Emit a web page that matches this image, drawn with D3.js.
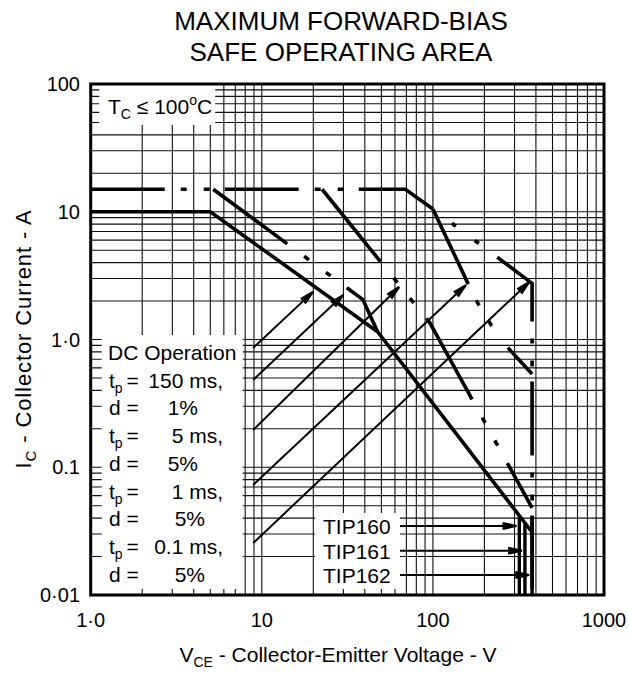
<!DOCTYPE html>
<html><head><meta charset="utf-8">
<script src="https://cdn.jsdelivr.net/npm/d3@7"></script>
<style>
body{margin:0;background:#fff;}
text{font-family:"Liberation Sans",Arial,Helvetica,sans-serif;fill:#000;}
</style>
</head><body>
<svg id="c" width="629" height="677"></svg>
<script>
// ---------- data ----------
const xTicks = [1, 10, 100, 1000];
const xTickLabels = ["1·0", "10", "100", "1000"];
const yTicks = [0.01, 0.1, 1, 10, 100];
const yTickLabels = ["0·01", "0.1", "1·0", "10", "100"];

const dcCurve    = [[1,10],[5,10],[47.5,1.15],[380,0.031]];
const curve150ms = [[1,15],[5.2,15],[39,2.05],[47.5,1.15]];
const curve5ms   = [[1,15],[22.5,15],[96,1.35],[380,0.048]];
const curve1ms   = [[1,15],[69,15],[100,10.5],[165,2.53],[184,1.9],[219,1.3],[272,0.874],[380,0.537]];
const curve01ms  = [[1,15],[69,15],[100,10.5],[380,2.75],[380,0.01]];

const devices = ["TIP160","TIP161","TIP162"];
const vceo = [320, 345, 380];
const vceoTopI = [0.042, 0.036, 0.041];
const deviceArrowI = [0.0347, 0.0222, 0.01435];

const legendArrowStart = [[8.9,0.858],[8.9,0.482],[8.9,0.196],[8.9,0.0726],[8.9,0.0255]];
const legendArrowEnd   = [[19.9,2.36],[29.9,2.23],[63.5,2.58],[156,2.67],[366,2.82]];

// ---------- drawing ----------
const svg = d3.select("#c");
const x = d3.scaleLog().domain([1,1000]).range([90.7,604]);
const y = d3.scaleLog().domain([0.01,100]).range([595,84]);

// grid
const g = svg.append("g");
const xGrid = [], yGrid = [];
for (const d of [1,10,100]) for (let k=1;k<=9;k++) xGrid.push(k*d);
xGrid.push(1000);
for (const d of [0.01,0.1,1,10]) for (let k=1;k<=9;k++) yGrid.push(k*d);
yGrid.push(100);
g.selectAll(".vg").data(xGrid).enter().append("line")
  .attr("x1",d=>x(d)).attr("x2",d=>x(d)).attr("y1",y(100)).attr("y2",y(0.01))
  .attr("stroke","#111").attr("stroke-width",1.1);
g.selectAll(".hg").data(yGrid).enter().append("line")
  .attr("y1",d=>y(d)).attr("y2",d=>y(d)).attr("x1",x(1)).attr("x2",x(1000))
  .attr("stroke","#111").attr("stroke-width",1.1);

// white label boxes
const boxes = [
  [x(1)+8.5, y(100), 116, 41],          // Tc box
  [x(1)+11, 335, 141, 254],             // legend box
  [315, 513, 85, 76]                    // device label box
];
svg.selectAll(".box").data(boxes).enter().append("rect")
  .attr("x",d=>d[0]).attr("y",d=>d[1]).attr("width",d=>d[2]).attr("height",d=>d[3])
  .attr("fill","#fff");

// frame
svg.append("rect").attr("x",x(1)).attr("y",y(100)).attr("width",x(1000)-x(1)).attr("height",y(0.01)-y(100))
  .attr("fill","none").attr("stroke","#000").attr("stroke-width",3);

const line = d3.line().x(d=>x(d[0])).y(d=>y(d[1]));

// curves: each drawn piece = [points, first index, last index, dash pattern]
const pieces = [
  [dcCurve, 0, 3, null],
  [curve01ms, 0, 2, "74,16,6,17,6,15,74,16,6,17,6,15,90,200"],
  [curve01ms, 2, 4, "0,23.7,5,23.7,5,23,81.6,17,5,17,6,15,74,17,5,17,6,15,74,17,5,17,6,15,74,1000"],
  [curve150ms, 1, 3, "92,21,6,21,6,20"],
  [curve5ms, 1, 3, "93,21,6,20,6,20"],
  [curve1ms, 2, 7, "83,18,6,18,6,27,200,100"]
];
svg.selectAll(".curve").data(pieces).enter().append("path")
  .attr("d",d=>line(d[0].slice(d[1], d[2]+1)))
  .attr("fill","none").attr("stroke","#000").attr("stroke-width",3.6)
  .attr("stroke-linejoin","miter")
  .attr("stroke-dasharray",d=>d[3]);

// VCEO verticals
svg.selectAll(".vceo").data(vceo).enter().append("line")
  .attr("x1",d=>x(d)).attr("x2",d=>x(d))
  .attr("y1",(d,i)=>y(vceoTopI[i])).attr("y2",y(0.01))
  .attr("stroke","#000").attr("stroke-width",3.4);

// arrows
function arrow(x1,y1,x2,y2){
  const a = Math.atan2(y2-y1,x2-x1);
  svg.append("line").attr("x1",x1).attr("y1",y1).attr("x2",x2).attr("y2",y2)
    .attr("stroke","#000").attr("stroke-width",2);
  const L=14, th=0.22;
  for (const back of [0,4]) {
    const tx = x2 - back*Math.cos(a), ty = y2 - back*Math.sin(a);
    const l = L - back;
    const p = [
      [tx - l*Math.cos(a-th), ty - l*Math.sin(a-th)],
      [tx, ty],
      [tx - l*Math.cos(a+th), ty - l*Math.sin(a+th)]
    ];
    svg.append("path").attr("d","M"+p.map(q=>q.join(",")).join("L"))
      .attr("fill","none").attr("stroke","#000").attr("stroke-width",2);
  }
}
legendArrowStart.forEach((s,i)=>{
  const e = legendArrowEnd[i];
  arrow(x(s[0]),y(s[1]),x(e[0]),y(e[1]));
});
deviceArrowI.forEach((iv,i)=>{
  arrow(400, y(iv), x(vceo[i])-3, y(iv));
});

// tick labels
svg.selectAll(".xl").data(xTicks).enter().append("text")
  .attr("x",d=>x(d)).attr("y",627).attr("text-anchor","middle")
  .attr("font-size",20).text((d,i)=>xTickLabels[i]);
svg.selectAll(".yl").data(yTicks).enter().append("text")
  .attr("x",80).attr("y",d=>y(d)+7).attr("text-anchor","end")
  .attr("font-size",20).text((d,i)=>yTickLabels[i]);

// titles
const title = svg.append("text").attr("text-anchor","middle").attr("font-size",26);
title.append("tspan").attr("x",341).attr("y",30).text("MAXIMUM FORWARD-BIAS");
title.append("tspan").attr("x",341).attr("y",61).text("SAFE OPERATING AREA");

const xt = svg.append("text").attr("x",338).attr("y",662).attr("text-anchor","middle").attr("font-size",21);
xt.append("tspan").text("V");
xt.append("tspan").attr("font-size",14).attr("dy",5).text("CE");
xt.append("tspan").attr("dy",-5).text(" - Collector-Emitter Voltage - V");

const yt = svg.append("text").attr("transform","translate(31,339) rotate(-90)")
  .attr("text-anchor","middle").attr("font-size",22).attr("letter-spacing",0.9);
yt.append("tspan").text("I");
yt.append("tspan").attr("font-size",15).attr("dy",5).text("C");
yt.append("tspan").attr("dy",-5).text(" - Collector Current - A");

// Tc label
const tc = svg.append("text").attr("x",108).attr("y",114).attr("font-size",21);
tc.append("tspan").text("T");
tc.append("tspan").attr("font-size",14).attr("dy",5).text("C");
tc.append("tspan").attr("dy",-5).text(" ≤ 100");
tc.append("tspan").attr("font-size",14).attr("dy",-9).text("o");
tc.append("tspan").attr("dy",9).text("C");

// legend text
const rows = [
  {type:"head", text:"DC Operation"},
  {type:"t", val:"150 ms,"},
  {type:"d", val:"1%", end:198},
  {type:"t", val:"5 ms,"},
  {type:"d", val:"5%", end:198},
  {type:"t", val:"1 ms,"},
  {type:"d", val:"5%", end:205},
  {type:"t", val:"0.1 ms,"},
  {type:"d", val:"5%", end:205}
];
rows.forEach((r,i)=>{
  const by = 360 + i*27.7;
  if (r.type==="head") {
    svg.append("text").attr("x",108).attr("y",by).attr("font-size",21).text(r.text);
    return;
  }
  const t = svg.append("text").attr("x",109).attr("y",by).attr("font-size",21);
  if (r.type==="t") {
    t.append("tspan").text("t");
    t.append("tspan").attr("font-size",14).attr("dy",5).text("p");
  } else {
    t.append("tspan").text("d");
  }
  svg.append("text").attr("x",126.5).attr("y",by).attr("font-size",21).text("=");
  svg.append("text").attr("x", r.type==="t" ? 223 : r.end).attr("y",by)
    .attr("text-anchor","end").attr("font-size",21).text(r.val);
});

// device labels
devices.forEach((n,i)=>{
  svg.append("text").attr("x",323).attr("y",y(deviceArrowI[i])+8).attr("font-size",21).text(n);
});
</script>
</body></html>
